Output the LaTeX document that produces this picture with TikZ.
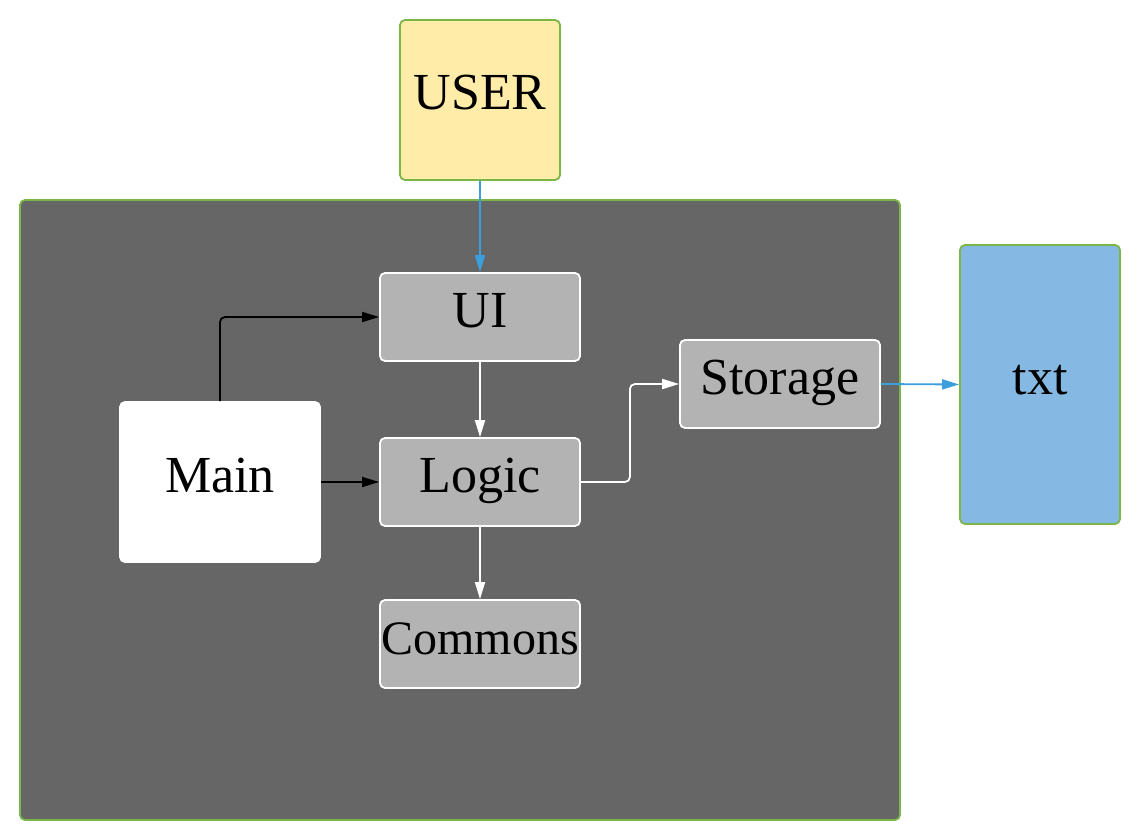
\documentclass[tikz,border=0pt]{standalone}
\usepackage{fontspec}
\setmainfont{Liberation Serif}
\usetikzlibrary{arrows.meta}
\definecolor{usery}{HTML}{FFECA8}
\definecolor{bordg}{HTML}{7AB648}
\definecolor{darkg}{HTML}{666666}
\definecolor{boxg}{HTML}{B3B3B3}
\definecolor{txtb}{HTML}{85B9E3}
\definecolor{arrb}{HTML}{3A9FDC}
\tikzset{
  box/.style={rectangle, rounded corners=5pt, line width=1.8pt, text height=20pt, text depth=0pt, inner sep=0pt,
    font=\fontsize{52}{60}\selectfont, text=black},
  inbox/.style={box, draw=white, fill=boxg, minimum width=200pt, minimum height=88pt},
  tip/.style={-{Triangle[length=17pt,width=10pt]}, line width=1.8pt, rounded corners=5pt},
}
\begin{document}
\begin{tikzpicture}[x=1pt,y=-1pt]
\useasboundingbox (0,0) rectangle (1140,840);
\node[box, draw=bordg, fill=darkg, minimum width=880pt, minimum height=620pt] (sys) at (460,510) {};
\node[box, draw=bordg, fill=usery, minimum width=160pt, minimum height=160pt] (user) at (480,100) {USER};
\node[box, draw=bordg, fill=txtb, minimum width=160pt, minimum height=279pt] (txt) at (1040,384.5) {txt};
\node[inbox] (ui) at (480,317) {UI};
\node[inbox] (logic) at (480,482) {Logic};
\node[inbox, font=\fontsize{48}{56}\selectfont] (commons) at (480,644) {Commons};
\node[inbox] (storage) at (780,384) {Storage};
\node[box, draw=white, fill=white, minimum width=200pt, minimum height=160pt] (main) at (220,482) {Main};
\draw[tip, arrb] (user.south) -- (ui.north);
\draw[tip, arrb] (storage.east) -- (txt.west);
\draw[tip, black] (main.north) |- (ui.west);
\draw[tip, black] (main.east) -- (logic.west);
\draw[tip, white] (ui.south) -- (logic.north);
\draw[tip, white] (logic.south) -- (commons.north);
\draw[tip, white] (logic.east) -- ([xshift=49pt]logic.east) |- (storage.west);
\end{tikzpicture}
\end{document}
